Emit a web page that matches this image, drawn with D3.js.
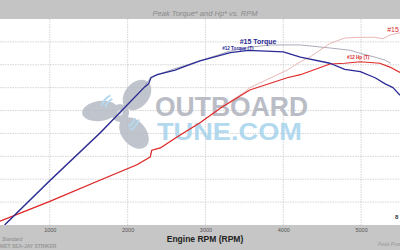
<!DOCTYPE html>
<html>
<head>
<meta charset="utf-8">
<script src="https://cdn.jsdelivr.net/npm/d3@7"></script>
<style>
  body { margin: 0; background: #fff; }
  svg { display: block; font-family: "Liberation Sans", Arial, sans-serif; }
</style>
</head>
<body>
<div id="chart"></div>
<script>
// Dyno curves (rpm, value)
const torque12Rpm = [420, 1000, 1650, 2220, 2270, 2300, 2380, 2610, 2710, 2930, 3320, 3550, 3780, 4000, 4220, 4600, 4790, 4990, 5180, 5310, 5410, 5500];
const torque12Val = [0, 58, 121, 181, 185, 193, 197, 203, 207, 215, 226, 229, 228, 227, 220, 212, 204, 201, 193, 185, 180, 170];

const torque15Rpm = [420, 1000, 1650, 2220, 2300, 2610, 2800, 3320, 3570, 3830, 4220, 4600, 4860, 4990, 5180, 5310, 5380];
const torque15Val = [1, 59, 122, 182, 194, 205, 211, 228, 233, 236, 236, 232, 229, 225, 220, 216, 212];

const hp12Rpm = [360, 1000, 1650, 2120, 2290, 2310, 2420, 2630, 2930, 3190, 3570, 4050, 4220, 4600, 4790, 4990, 5240, 5370, 5500];
const hp12Val = [5, 31, 59, 79, 89, 98, 101, 115, 134, 153, 177, 193, 197, 211, 212, 214, 212, 207, 200];

const hp15Rpm = [360, 1000, 1650, 2120, 2290, 2310, 2420, 2630, 2930, 3190, 3510, 3570, 4050, 4220, 4340, 4600, 4790, 4990, 5180, 5280, 5370, 5500];
const hp15Val = [5, 31, 59, 79, 89, 98, 101, 115, 134, 153, 175, 180, 203, 214, 220, 238, 245, 246, 246, 244, 249, 252];

const xTicks = [1000, 2000, 3000, 4000, 5000];
const yTicks = [0, 30, 60, 90, 120, 150, 180, 210, 240, 270];

const curveLabels = [
  { text: "#15 Torque", rpm: 3440, val: 237, color: "#2b2b95", size: 7, weight: "bold" },
  { text: "#12 Torque (T)", rpm: 3215, val: 229, color: "#2b2b95", size: 4.6, weight: "bold" },
  { text: "#12 Hp (T)", rpm: 4820, val: 218, color: "#d92a2a", size: 4.6, weight: "bold" },
  { text: "#15 Hp", rpm: 5335, val: 253, color: "#d92a2a", size: 7, weight: "normal" }
];

const W = 400, H = 250;
const plot = { top: 19, bottom: 225 };

const svg = d3.select("#chart").append("svg")
  .attr("width", W)
  .attr("height", H);

const x = d3.scaleLinear().domain([360, 5500]).range([0, W]);
const y = d3.scaleLinear().domain([0, 270]).range([plot.bottom, plot.top]);

// header and footer bands
svg.append("rect").attr("x", 0).attr("y", 0).attr("width", W).attr("height", plot.top).attr("fill", "#c4c4c4");
svg.append("rect").attr("x", 0).attr("y", plot.bottom).attr("width", W).attr("height", H - plot.bottom).attr("fill", "#c6c6c6");

svg.append("text")
  .attr("x", 205).attr("y", 15.5)
  .attr("text-anchor", "middle")
  .style("font-size", "7.5px")
  .style("font-style", "italic")
  .attr("fill", "#8a8a8a")
  .text("Peak Torque* and Hp* vs. RPM");

// grid
const grid = svg.append("g");
grid.selectAll(".hg").data(yTicks.slice(1, -1)).enter().append("line")
  .attr("x1", 0).attr("x2", W)
  .attr("y1", d => y(d)).attr("y2", d => y(d))
  .attr("stroke", "#c9c9c9").attr("stroke-width", 0.8).attr("stroke-dasharray", "1.5,1");
grid.selectAll(".vg").data(xTicks).enter().append("line")
  .attr("x1", d => x(d)).attr("x2", d => x(d))
  .attr("y1", plot.top).attr("y2", plot.bottom)
  .attr("stroke", "#c9c9c9").attr("stroke-width", 0.8).attr("stroke-dasharray", "1.5,1");

// x axis labels
const xAxis = d3.axisBottom(x).tickValues(xTicks).tickFormat(d3.format("d")).tickSize(0).tickPadding(3);
const gx = svg.append("g").attr("transform", `translate(0,${plot.bottom})`).call(xAxis);
gx.select(".domain").remove();
gx.selectAll("text").style("font-size", "5.5px").attr("fill", "#555").attr("font-family", "Liberation Sans, Arial, sans-serif");

svg.append("text")
  .attr("x", 205).attr("y", 242)
  .attr("text-anchor", "middle")
  .style("font-size", "8.5px")
  .style("font-weight", "bold")
  .attr("fill", "#222")
  .text("Engine RPM (RPM)");

svg.append("text").attr("x", 2).attr("y", 241)
  .style("font-size", "5px").style("font-style", "italic").attr("fill", "#888").text("Standard");
svg.append("text").attr("x", 0).attr("y", 248)
  .style("font-size", "5px").style("font-weight", "bold").attr("fill", "#999").text("MET SEA-JAY STRIKER");
svg.append("text").attr("x", 378).attr("y", 246)
  .style("font-size", "5px").style("font-style", "italic").attr("fill", "#999").text("Peak Pow");

// watermark
const wm = svg.append("g").attr("opacity", 0.85);
const bladeColor = "#b6bac5";
wm.append("ellipse").attr("cx", 137).attr("cy", 95).attr("rx", 12).attr("ry", 17)
  .attr("transform", "rotate(40,137,95)").attr("fill", bladeColor);
wm.append("ellipse").attr("cx", 100).attr("cy", 111).attr("rx", 18).attr("ry", 10)
  .attr("transform", "rotate(-8,100,111)").attr("fill", bladeColor);
wm.append("ellipse").attr("cx", 134).attr("cy", 133).attr("rx", 12).attr("ry", 18)
  .attr("transform", "rotate(-40,134,133)").attr("fill", bladeColor);
wm.append("circle").attr("cx", 120).attr("cy", 113).attr("r", 9).attr("fill", bladeColor);
wm.append("circle").attr("cx", 120).attr("cy", 113).attr("r", 3).attr("fill", "#d6dae2");
const arc = d3.arc();
[[15, 17], [19, 21]].forEach(([r0, r1]) => {
  wm.append("path").attr("transform", "translate(120,113)")
    .attr("d", arc({ innerRadius: r0, outerRadius: r1, startAngle: -1.2, endAngle: -0.5 }))
    .attr("fill", "#a8d3ec");
  wm.append("path").attr("transform", "translate(120,113)")
    .attr("d", arc({ innerRadius: r0, outerRadius: r1, startAngle: 1.9, endAngle: 2.6 }))
    .attr("fill", "#a8d3ec");
});
wm.append("text").attr("x", 155).attr("y", 116)
  .attr("textLength", 153).attr("lengthAdjust", "spacingAndGlyphs")
  .style("font-size", "28px").style("font-weight", "bold")
  .attr("fill", "#aeb2bd").text("OUTBOARD");
wm.append("text").attr("x", 157).attr("y", 140)
  .attr("textLength", 145).attr("lengthAdjust", "spacingAndGlyphs")
  .style("font-size", "23px").style("font-weight", "bold")
  .attr("fill", "#a6d3ec").text("TUNE.COM");

// curves
svg.append("clipPath").attr("id", "plotclip")
  .append("rect").attr("x", 0).attr("y", plot.top).attr("width", W).attr("height", plot.bottom - plot.top);

const line = d3.line().x(d => x(d[0])).y(d => y(d[1]));
const series = [
  { rpm: torque15Rpm, val: torque15Val, color: "#9595a8", width: 0.8 },
  { rpm: hp15Rpm, val: hp15Val, color: "#e6a4a4", width: 0.8 },
  { rpm: hp12Rpm, val: hp12Val, color: "#e02a2a", width: 1.2 },
  { rpm: torque12Rpm, val: torque12Val, color: "#2a2a96", width: 1.3 }
];

const lines = svg.append("g").attr("clip-path", "url(#plotclip)");
lines.selectAll("path").data(series).enter().append("path")
  .attr("d", d => line(d.rpm.map((r, i) => [r, d.val[i]])))
  .attr("fill", "none")
  .attr("stroke", d => d.color)
  .attr("stroke-width", d => d.width)
  .attr("stroke-linejoin", "round");

svg.selectAll(".clabel").data(curveLabels).enter().append("text")
  .attr("x", d => x(d.rpm)).attr("y", d => y(d.val))
  .style("font-size", d => d.size + "px")
  .style("font-weight", d => d.weight)
  .attr("fill", d => d.color)
  .text(d => d.text);

svg.append("text").attr("x", 395).attr("y", 219)
  .style("font-size", "6px").style("font-weight", "bold").attr("fill", "#333").text("8");
</script>
</body>
</html>
